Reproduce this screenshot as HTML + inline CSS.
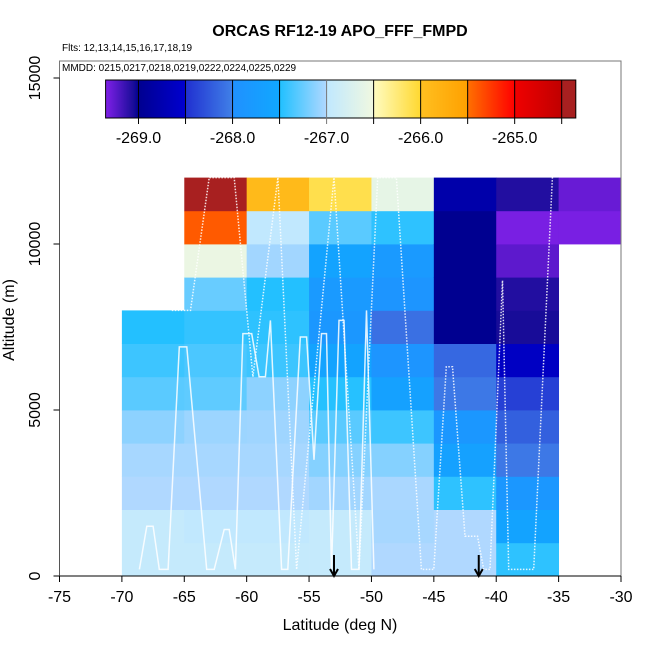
<!DOCTYPE html>
<html><head><meta charset="utf-8"><style>
body{margin:0;background:#fff}
svg{display:block;font-family:"Liberation Sans",sans-serif}
</style></head><body>
<svg id="c" width="650" height="650" viewBox="0 0 650 650"></svg>
<script>
const latBins=[-70,-65,-60,-55,-50,-45,-40,-35];
const altBins=[0,1000,2000,3000,4000,5000,6000,7000,8000,9000,10000,11000];
const vals_m70=[-266.95,-266.95,-267.0,-267.03,-267.12,-267.3,-267.4,-267.49,null,null,null,null];
const vals_m65=[-266.95,-266.99,-267.0,-267.03,-267.07,-267.28,-267.35,-267.43,-267.25,-266.55,-265.4,-264.4];
const vals_m60=[-266.95,-266.99,-267.0,-267.03,-267.06,-267.12,-267.4,-267.45,-267.49,-267.05,-266.99,-265.9];
const vals_m55=[-266.95,-266.95,-267.05,-267.15,-267.3,-267.48,-267.6,-267.85,-267.8,-267.6,-267.3,-266.1];
const vals_m50=[-267.0,-267.03,-267.02,-267.15,-267.4,-267.65,-267.9,-268.1,-267.9,-267.8,-267.45,-266.6];
const vals_m45=[-267.0,-267.0,-267.45,-267.65,-267.85,-268.05,-268.15,-269.0,-269.0,-269.0,-269.0,-268.8];
const vals_m40=[-267.45,-267.6,-267.85,-268.05,-268.2,-268.4,-268.6,-269.05,-269.08,-269.25,-269.33,-269.08];
const vals_m35=[null,null,null,null,null,null,null,null,null,null,-269.33,-269.28];
const cellVals=[vals_m70,vals_m65,vals_m60,vals_m55,vals_m50,vals_m45,vals_m40,vals_m35];
const xTicks=[-75,-70,-65,-60,-55,-50,-45,-40,-35,-30];
const yTicks=[0,5000,10000,15000];
const cbTicks=[-269,-268,-267,-266,-265];
const arrowLats=[-53,-41.4];
const pathSolidLat=[-68.6,-68,-67.5,-67,-66.3,-65.4,-64.8,-63.2,-62.6,-61.8,-61.4,-60.9,-60.3,-59.6,-59,-58.5,-58.1,-57.2,-56.7,-55.7,-55.2,-54.6,-54,-53.6,-53.2,-52.6,-52.2,-51.6,-51,-50.4,-49.8];
const pathSolidAlt=[200,1500,1500,200,200,6900,6900,200,200,1400,1400,200,7300,7300,6000,6000,7700,200,200,7200,7200,3500,7300,7300,200,7700,7700,200,200,8000,200];
const pathDotLat=[-66,-64.5,-63,-61,-59.5,-57.5,-56,-53,-51,-49.5,-48,-46,-45,-44,-43.5,-42.5,-41.5,-41,-40.5,-39.5,-39,-38,-37.5,-37,-35.5,-35];
const pathDotAlt=[8000,8000,12000,12000,6000,12000,200,12000,200,12000,12000,200,200,6300,6300,1200,1200,200,200,8900,200,200,200,200,12000,12200];
const cmapV=[-269.35,-269.05,-269.0,-268.5,-268.5,-268.0,-268.0,-267.5,-267.5,-267.0,-267.0,-266.5,-266.5,-266.0,-266.0,-265.5,-265.5,-265.0,-265.0,-264.5,-264.5,-264.35];
const cmapC=["#8020e8","#180c98","#000090","#0000d0","#2030d0","#4080e8","#2090ff","#10a8ff","#20c0ff","#b0d8ff","#c0e8ff","#f0f8e0","#fffcc0","#ffd830","#ffc020","#ffa000","#ff7000","#ff0000","#f00000","#c00000","#a82020","#a82020"];

const NS="http://www.w3.org/2000/svg";
const svg=document.getElementById('c');
const X0=59.5,X1=621,Y0=576,Y1=78;
const xs=v=>X0+(v+75)/45*(X1-X0);
const ys=v=>Y0-v/15000*(Y0-Y1);
const CB0=105.6,CB1=575.8;
const cbx=v=>CB0+(v+269.35)/5*(CB1-CB0);
function hex(c){return [1,3,5].map(i=>parseInt(c.substr(i,2),16));}
function cmap(v){
  for(let i=0;i<cmapV.length-1;i++){
    if(v>=cmapV[i]&&v<=cmapV[i+1]&&cmapV[i+1]>cmapV[i]){
      const t=(v-cmapV[i])/(cmapV[i+1]-cmapV[i]);const a=hex(cmapC[i]),b=hex(cmapC[i+1]);
      return 'rgb('+a.map((x,k)=>Math.round(x+(b[k]-x)*t)).join(',')+')';
    }
  }
  return v<cmapV[0]?cmapC[0]:cmapC[cmapC.length-1];
}
function el(t,a,p){const e=document.createElementNS(NS,t);for(const k in a)e.setAttribute(k,a[k]);(p||svg).appendChild(e);return e;}

const gCells=el('g',{});


latBins.forEach((lat,i)=>{altBins.forEach((alt,j)=>{
  const v=cellVals[i][j]; if(v===null)return;
  const x=xs(lat),y=ys(alt+1000);
  const r=el('rect',{x:x,y:y,width:xs(lat+5)-x+0.4,height:ys(alt)-y+0.4,fill:cmap(v)},gCells);
  
  
});});

function pts(la,al){return la.map((v,i)=>xs(v).toFixed(1)+','+ys(al[i]).toFixed(1)).join(' ');}
const p1=el('polyline',{points:pts(pathSolidLat,pathSolidAlt),fill:'none',stroke:'#fff','stroke-width':1.5,'stroke-opacity':0.85});


const p2=el('polyline',{points:pts(pathDotLat,pathDotAlt),fill:'none',stroke:'#fff','stroke-width':1.5,'stroke-dasharray':'1.5 1.5','stroke-opacity':0.85});



arrowLats.forEach(a=>{
  const x=xs(a);
  const g=el('g',{stroke:'#000','stroke-width':2,fill:'none'});
  
  
  el('line',{x1:x,y1:555,x2:x,y2:576},g);
  el('polyline',{points:(x-4)+',569 '+x+',576 '+(x+4)+',569'},g);
});

const fr=el('rect',{x:X0,y:61,width:X1-X0,height:Y0-61,fill:'none',stroke:'#777','stroke-width':1});


el('line',{x1:X0,y1:Y0,x2:X1,y2:Y0,stroke:'#000','stroke-width':1});
el('line',{x1:X0,y1:Y1,x2:X0,y2:Y0,stroke:'#555','stroke-width':1});

xTicks.forEach(t=>{
  const x=xs(t);
  el('line',{x1:x,y1:Y0,x2:x,y2:Y0+6,stroke:'#000'});
  const tx=el('text',{x:x,y:602,'font-size':16,'text-anchor':'middle'});tx.textContent=t;
  
  
});
yTicks.forEach(t=>{
  const y=ys(t);
  el('line',{x1:X0-6,y1:y,x2:X0,y2:y,stroke:'#000'});
  const tx=el('text',{x:0,y:0,'font-size':16,'text-anchor':'middle',transform:'translate(40,'+y+') rotate(-90)'});tx.textContent=t;
  
  
});

const defs=el('defs',{});
const lg=el('linearGradient',{id:'cbg',x1:0,x2:1,y1:0,y2:0},defs);
cmapV.forEach((v,i)=>el('stop',{offset:((v+269.35)/5).toFixed(4),'stop-color':cmapC[i]},lg));
const cb=el('rect',{x:CB0,y:80,width:CB1-CB0,height:38,fill:'url(#cbg)',stroke:'#000','stroke-width':1});


for(let v=-269;v<=-264.5;v+=0.5){
  const x=cbx(v);
  el('line',{x1:x,y1:80,x2:x,y2:124,stroke:v===-267?'#777':'#000','stroke-width':1});
}
cbTicks.forEach(t=>{
  const tx=el('text',{x:cbx(t),y:143,'font-size':16,'text-anchor':'middle'});tx.textContent=t.toFixed(1);
  
  
});
</script>
<svg width="650" height="650" style="position:absolute;left:0;top:0;font-family:'Liberation Sans',sans-serif">
<text x="340" y="36" font-size="16" font-weight="bold" text-anchor="middle">ORCAS RF12-19 APO_FFF_FMPD</text>
<text x="62" y="51" font-size="10">Flts: 12,13,14,15,16,17,18,19</text>
<text x="62" y="71" font-size="10">MMDD: 0215,0217,0218,0219,0222,0224,0225,0229</text>
<text x="340" y="630" font-size="16" text-anchor="middle">Latitude (deg N)</text>
<text transform="translate(14,320) rotate(-90)" font-size="16" text-anchor="middle">Altitude (m)</text>
</svg>
</body></html>
